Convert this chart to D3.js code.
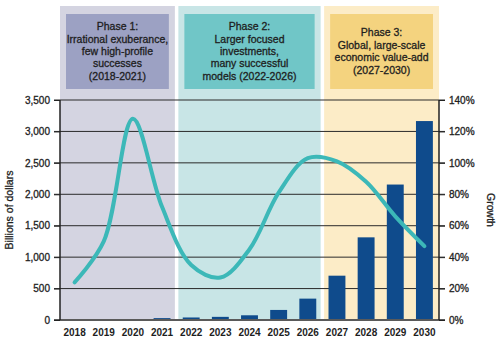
<!DOCTYPE html>
<html>
<head>
<meta charset="utf-8">
<script src="https://cdn.jsdelivr.net/npm/d3@7"></script>
<style>
  html, body { margin: 0; padding: 0; background: #fff; }
  svg { display: block; font-family: "Liberation Sans", Arial, sans-serif; }
  .med { stroke: #1e1e1e; stroke-width: 0.3px; }
</style>
</head>
<body>
<div id="chart"></div>
<script>
const years = ["2018","2019","2020","2021","2022","2023","2024","2025","2026","2027","2028","2029","2030"];
const investment = [0, 0, 0, 30, 40, 50, 75, 160, 340, 705, 1315, 2155, 3165];
const growth = [24, 50, 128, 72, 35, 27, 45, 81, 103, 101, 88, 66, 47];
const leftTicks = [0, 500, 1000, 1500, 2000, 2500, 3000, 3500];
const rightTicks = [0, 20, 40, 60, 80, 100, 120, 140];
const phaseStart = ["2018", "2022", "2027"];
const phaseEnd = ["2021", "2026", "2030"];
const phaseLines = [
  ["Phase 1:", "Irrational exuberance,", "few high-profile", "successes", "(2018-2021)"],
  ["Phase 2:", "Larger focused", "investments,", "many successful", "models (2022-2026)"],
  ["Phase 3:", "Global, large-scale", "economic value-add", "(2027-2030)"]
];
const outerColors = ["#d4d4e1", "#c8e5e6", "#fcecc7"];
const innerColors = ["#9ca1c3", "#70c6c7", "#f4d37f"];

const W = 500, H = 343;
const mLeft = 60, mRight = 439, mTop = 100, mBottom = 320, panelTop = 6;

const svg = d3.select("#chart").append("svg").attr("width", W).attr("height", H);

const x = d3.scaleBand().domain(years).range([mLeft, mRight]).paddingInner(0.42).paddingOuter(0.21);
const step = x.step();
const half = (step - x.bandwidth()) / 2;
const yL = d3.scaleLinear().domain([0, 3500]).range([mBottom, mTop]);
const yR = d3.scaleLinear().domain([0, 140]).range([mBottom, mTop]);

// phase panels
const gap = 3.5;
phaseLines.forEach((lines, i) => {
  const x0 = i === 0 ? mLeft : x(phaseStart[i]) - half + gap / 2;
  const x1 = i === phaseLines.length - 1 ? mRight : x(phaseEnd[i]) + x.bandwidth() + half - gap / 2;
  svg.append("rect").attr("x", x0).attr("y", panelTop).attr("width", x1 - x0).attr("height", mBottom - panelTop)
    .attr("fill", outerColors[i]);
  const inset = 6;
  const boxTop = 14, boxBottom = 89;
  svg.append("rect").attr("x", x0 + inset).attr("y", boxTop)
    .attr("width", x1 - x0 - 2 * inset).attr("height", boxBottom - boxTop)
    .attr("fill", innerColors[i]);
  const lh = 12.4;
  const cy = (boxTop + boxBottom) / 2;
  const startY = cy - (lines.length - 1) * lh / 2 + 3.5;
  const cx = (x0 + x1) / 2;
  lines.forEach((t, j) => {
    svg.append("text").attr("class", "med").attr("x", cx).attr("y", startY + j * lh)
      .attr("text-anchor", "middle").attr("font-size", 10.5).attr("fill", "#1e1e1e")
      .text(t);
  });
});

// gridlines
svg.append("g").selectAll("line").data(leftTicks.filter(d => d > 0)).join("line")
  .attr("x1", mLeft - 6).attr("x2", mRight + 6)
  .attr("y1", d => yL(d)).attr("y2", d => yL(d))
  .attr("stroke", "#2a2a2a").attr("stroke-width", 1);

// bars
svg.append("g").selectAll("rect").data(years.map((y, i) => ({ y, v: investment[i] })).filter(d => d.v > 0)).join("rect")
  .attr("x", d => x(d.y)).attr("width", x.bandwidth())
  .attr("y", d => yL(d.v)).attr("height", d => yL(0) - yL(d.v))
  .attr("fill", "#0f4b8c");

// baseline
svg.append("line").attr("x1", mLeft - 6).attr("x2", mRight + 6).attr("y1", mBottom).attr("y2", mBottom)
  .attr("stroke", "#5a5a5a").attr("stroke-width", 2);

// growth line
const line = d3.line().x((d, i) => x(years[i]) + x.bandwidth() / 2).y(d => yR(d)).curve(d3.curveCatmullRom.alpha(0.5));
svg.append("path").datum(growth).attr("d", line).attr("fill", "none")
  .attr("stroke", "#3cb8b8").attr("stroke-width", 4).attr("stroke-linecap", "round");

// left axis
const gL = svg.append("g").attr("transform", `translate(${mLeft},0)`)
  .call(d3.axisLeft(yL).tickValues(leftTicks).tickFormat(d3.format(",")).tickSize(6).tickPadding(4));
gL.select(".domain").attr("stroke", "#222").attr("stroke-width", 1.5).attr("d", `M0,${mTop}V${mBottom}`);
gL.selectAll("text").attr("class", "med").attr("font-size", 10).attr("fill", "#1e1e1e").attr("font-family", "Liberation Sans, Arial, sans-serif");
gL.selectAll(".tick line").attr("stroke", "#222");

// right axis
const gR = svg.append("g").attr("transform", `translate(${mRight},0)`)
  .call(d3.axisRight(yR).tickValues(rightTicks).tickFormat(d => d + "%").tickSize(6).tickPadding(4));
gR.select(".domain").attr("stroke", "#222").attr("stroke-width", 1.5).attr("d", `M0,${mTop}V${mBottom}`);
gR.selectAll("text").attr("class", "med").attr("font-size", 10).attr("fill", "#1e1e1e").attr("font-family", "Liberation Sans, Arial, sans-serif");
gR.selectAll(".tick line").attr("stroke", "#222");

// bottom axis labels
const gB = svg.append("g").attr("transform", `translate(0,${mBottom})`)
  .call(d3.axisBottom(x).tickSize(0).tickPadding(9));
gB.select(".domain").remove();
gB.selectAll("text").attr("font-size", 10).attr("fill", "#1e1e1e").attr("font-family", "Liberation Sans, Arial, sans-serif").attr("font-weight", "bold");

// axis titles
svg.append("text").attr("class", "med").attr("transform", `translate(13,${(mTop + mBottom) / 2}) rotate(-90)`)
  .attr("text-anchor", "middle").attr("font-size", 10.5).attr("fill", "#1e1e1e").text("Billions of dollars");
svg.append("text").attr("class", "med").attr("transform", `translate(487,${(mTop + mBottom) / 2}) rotate(90)`)
  .attr("text-anchor", "middle").attr("font-size", 10.5).attr("fill", "#1e1e1e").text("Growth");
</script>
</body>
</html>
